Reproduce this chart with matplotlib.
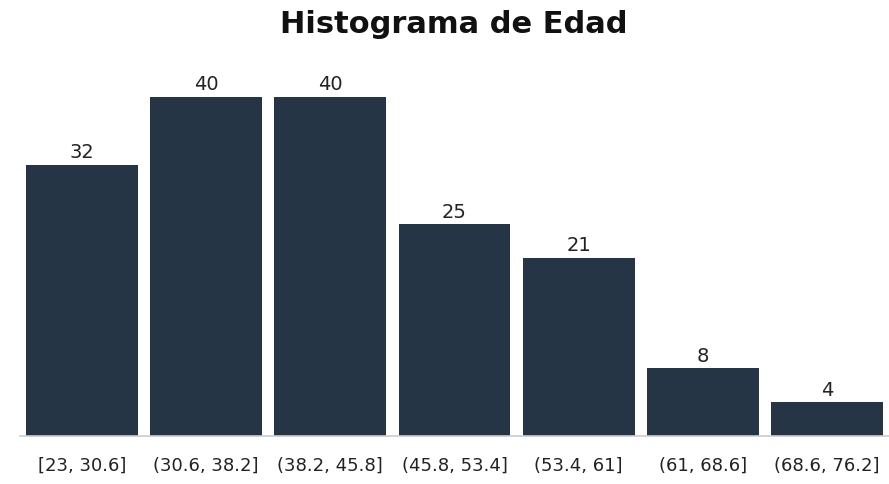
import matplotlib
matplotlib.use("Agg")
import matplotlib.pyplot as plt

categories = ["[23, 30.6]", "(30.6, 38.2]", "(38.2, 45.8]", "(45.8, 53.4]",
              "(53.4, 61]", "(61, 68.6]", "(68.6, 76.2]"]
counts = [32, 40, 40, 25, 21, 8, 4]

plt.rcParams['font.family'] = ['DejaVu Sans']

fig = plt.figure(figsize=(8.89, 4.84), dpi=100)
ax = fig.add_axes([20/889, 48/484, 869/889, (436-60)/484])
x = list(range(len(categories)))
bars = ax.bar(x, counts, width=0.9, color="#253545")
for xi, c in zip(x, counts):
    ax.text(xi, c + 0.3, str(c), ha="center", va="bottom", fontsize=14, color="#222222")
ax.set_xlim(-0.5, 6.5)
ax.set_ylim(0, (436-60)/8.475)
ax.set_xticks(x)
ax.set_xticklabels(categories, fontsize=13, color="#222222")
ax.tick_params(axis="x", length=0, pad=15)
ax.set_yticks([])
for s in ["top", "right", "left"]:
    ax.spines[s].set_visible(False)
ax.spines["bottom"].set_color("#cccccc")
ax.spines["bottom"].set_linewidth(1.2)
fig.suptitle("Histograma de Edad", x=0.51, y=0.98, fontsize=22, fontweight="bold", color="#111111", va="top")
fig.savefig("out.png", dpi=100)
